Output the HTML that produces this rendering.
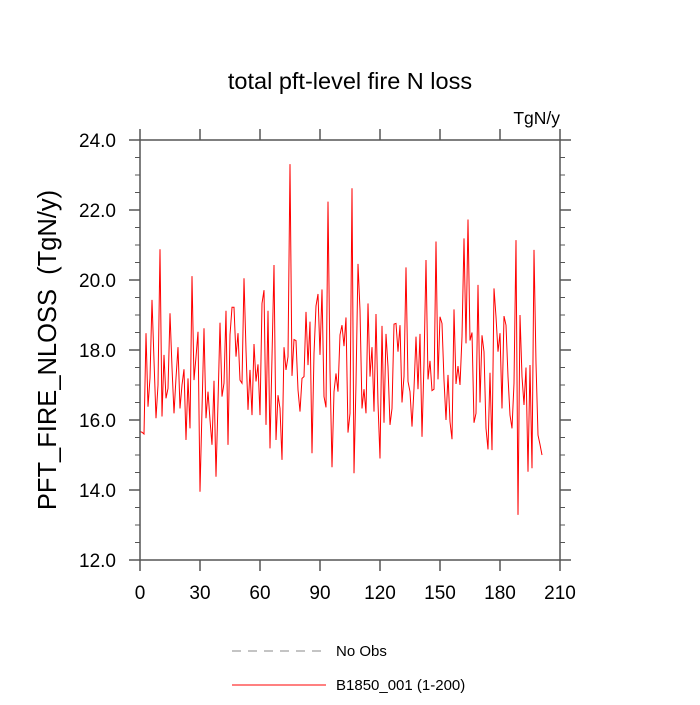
<!DOCTYPE html>
<html><head><meta charset="utf-8"><style>
html,body{margin:0;padding:0;background:#fff;}
svg text{font-family:"Liberation Sans",sans-serif;fill:#000;}
</style></head><body>
<svg id="chart" width="700" height="700" viewBox="0 0 700 700" xmlns="http://www.w3.org/2000/svg">
<text x="350" y="89" font-size="23.5" text-anchor="middle">total pft-level fire N loss</text>
<text x="560" y="124" font-size="17.5" text-anchor="end">TgN/y</text>
<text transform="translate(56,350) rotate(-90)" font-size="25.5" text-anchor="middle" xml:space="preserve" style="white-space:pre">PFT_FIRE_NLOSS  (TgN/y)</text>
<g id="axes"></g>
<path id="series" fill="none" stroke="#ff0000" stroke-width="1"/>
<rect x="140" y="140" width="420" height="420" fill="none" stroke="#555" stroke-width="1.5"/>
<g>
<line x1="232" y1="651" x2="326" y2="651" stroke="#888" stroke-width="1" stroke-dasharray="9,7"/>
<text x="336" y="656" font-size="15">No Obs</text>
<line x1="232" y1="685" x2="326" y2="685" stroke="#ff0000" stroke-width="1"/>
<text x="336" y="690" font-size="15">B1850_001 (1-200)</text>
</g>
</svg>
<script>
const xTicks=[0,30,60,90,120,150,180,210];
const yTicks=[12,14,16,18,20,22,24];
const yTickLabels=["12.0","14.0","16.0","18.0","20.0","22.0","24.0"];
const values=[15.67,15.65,15.6,18.48,16.38,17.2,19.43,17.7,16.05,17.0,20.88,16.1,17.86,16.62,16.9,19.05,17.5,16.19,17.2,18.08,16.33,17.0,17.45,15.43,17.19,15.76,20.11,17.14,17.8,18.52,13.95,16.3,18.62,16.05,16.81,16.0,15.29,17.12,14.38,16.5,18.78,16.67,17.05,19.12,15.29,18.43,19.22,19.22,17.81,18.48,17.14,17.05,20.05,18.0,16.29,
17.43,16.14,18.17,17.10,17.59,16.14,19.33,19.71,15.86,19.12,15.19,17.8,20.43,15.43,16.71,16.33,14.86,18.08,17.43,17.81,23.31,17.26,18.30,18.27,16.86,16.24,17.19,17.24,19.09,17.57,18.81,15.05,17.9,19.26,19.6,17.86,19.73,16.67,16.36,22.24,17.43,14.65,16.81,17.33,16.81,18.43,18.71,18.11,18.93,15.64,
16.19,22.62,14.48,17.05,20.46,19.14,16.33,16.88,16.19,19.33,17.24,18.08,16.24,19.03,16.48,14.9,18.69,15.92,18.46,17.52,15.86,16.33,18.74,18.76,17.95,18.71,16.5,17.24,20.36,17.1,16.81,15.81,16.9,18.38,16.88,18.46,15.52,17.62,20.57,17.16,17.69,16.84,16.88,21.1,17.16,18.95,18.76,17.14,16.0,17.29,
15.95,15.45,19.16,17.03,17.54,17.0,18.38,21.19,18.19,21.73,18.27,18.5,15.92,16.19,19.86,16.5,18.42,17.95,15.76,15.16,17.35,15.14,19.76,18.95,17.95,18.48,16.33,18.97,18.71,17.24,16.14,15.76,17.05,21.14,13.29,19.0,17.24,16.43,17.5,14.52,17.57,14.62,20.86,17.62,15.57,15.3,15.0];
const X0=140,X1=560,Y0=560,Y1=140;
function xs(v){return X0+(v-0)/(210-0)*(X1-X0);}
function ys(v){return Y0-(v-12)/(24-12)*(Y0-Y1);}
const NS="http://www.w3.org/2000/svg";
const axes=document.getElementById('axes');
function mk(tag,attrs){const e=document.createElementNS(NS,tag);for(const k in attrs)e.setAttribute(k,attrs[k]);axes.appendChild(e);return e;}
xTicks.forEach((t,i)=>{
  const x=xs(t);
  let l=mk('line',{x1:x,y1:Y0,x2:x,y2:Y0+11,stroke:'#555','stroke-width':1.5});
  
  
  l=mk('line',{x1:x,y1:Y1,x2:x,y2:Y1-11,stroke:'#555','stroke-width':1.5});
  
  
  const tx=mk('text',{x:x,y:599,'font-size':19,'text-anchor':'middle'});
  tx.textContent=String(t);
  
  
});
for(let v=12;v<=24.001;v+=0.5){
  const y=ys(v);const major=Math.abs(v-Math.round(v/2)*2)<1e-6;
  const len=major?11:5;
  let l=mk('line',{x1:X0-len,y1:y,x2:X0,y2:y,stroke:'#555','stroke-width':major?1.5:1});
  
  
  l=mk('line',{x1:X1,y1:y,x2:X1+len,y2:y,stroke:'#555','stroke-width':major?1.5:1});
  
  
}
yTicks.forEach((t,i)=>{
  const tx=mk('text',{x:116,y:ys(t)+7,'font-size':19,'text-anchor':'end'});
  tx.textContent=yTickLabels[i];
  
  
});
document.getElementById('series').setAttribute('d',values.map((v,i)=>(i?'L':'M')+xs(i).toFixed(2)+','+ys(v).toFixed(2)).join(''));
</script>
</body></html>
